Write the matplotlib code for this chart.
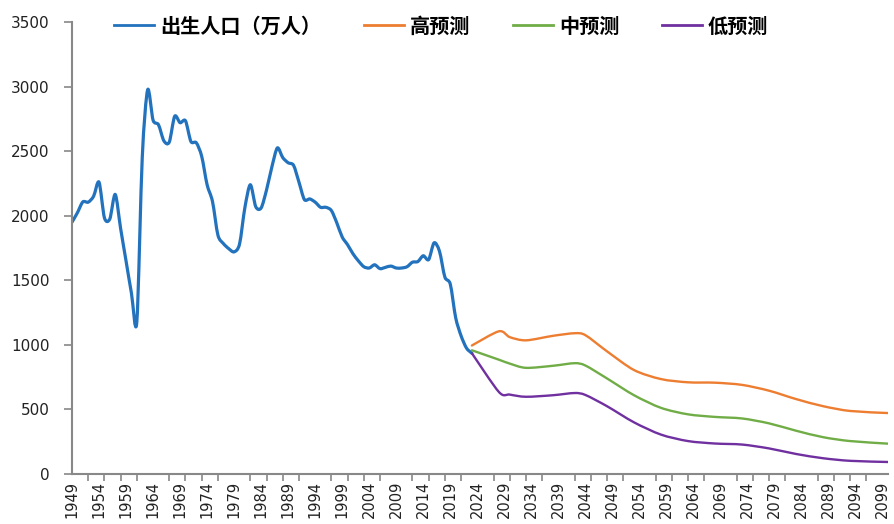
import numpy as np
import matplotlib
matplotlib.use("Agg")
import matplotlib.pyplot as plt
from matplotlib.path import Path
from matplotlib.patches import PathPatch
from matplotlib.lines import Line2D
from matplotlib.ticker import FixedLocator

plt.rcParams['font.family'] = ['DejaVu Sans']

# actual births, 1949-2023 (万人)
hist_years = list(range(1949, 2024))
hist_births = [
    1950, 2023, 2107, 2105, 2151, 2260, 1984, 1975, 2165, 1900,
    1650, 1400, 1180, 2450, 2975, 2740, 2705, 2580, 2570, 2770,
    2720, 2735, 2575, 2565, 2460, 2240, 2110, 1850, 1785, 1745,
    1720, 1780, 2065, 2240, 2070, 2060, 2200, 2380, 2525, 2450,
    2410, 2390, 2260, 2125, 2130, 2105, 2065, 2065, 2040, 1945,
    1835, 1775, 1705, 1650, 1605, 1595, 1620, 1590, 1600, 1610,
    1595, 1595, 1605, 1640, 1645, 1690, 1660, 1790, 1725, 1525,
    1470, 1210, 1070, 975, 935,
]

# projections
proj_years = [2023, 2028, 2030, 2033, 2038, 2042, 2044, 2048, 2053, 2058,
              2063, 2068, 2073, 2078, 2083, 2088, 2093, 2100]
high = [995, 1105, 1060, 1035, 1070, 1090, 1075, 950, 805, 735,
        710, 707, 690, 645, 580, 525, 488, 472]
mid = [958, 885, 855, 822, 838, 858, 840, 740, 610, 512,
       462, 442, 430, 392, 335, 285, 255, 235]
low = [935, 635, 615, 598, 610, 627, 612, 525, 400, 305,
       255, 236, 228, 198, 155, 122, 102, 93]

labels = ["出生人口（万人）", "高预测", "中预测", "低预测"]
colors = ["#2272BD", "#ED7D31", "#70AD47", "#7030A0"]


# Excel-style smoothed line: bezier through the data points
def smooth_path(xs, ys, k=7.0):
    pts = np.column_stack([xs, ys]).astype(float)
    n = len(pts)
    verts = [pts[0]]
    codes = [Path.MOVETO]
    for i in range(n - 1):
        p0 = pts[i - 1] if i > 0 else pts[i]
        p1, p2 = pts[i], pts[i + 1]
        p3 = pts[i + 2] if i + 2 < n else pts[i + 1]
        verts += [p1 + (p2 - p0) / k, p2 - (p3 - p1) / k, p2]
        codes += [Path.CURVE4] * 3
    return Path(verts, codes)


fig = plt.figure(figsize=(8.94, 5.24), dpi=100)
ax = fig.add_axes([72 / 894, 1 - 474 / 524, (888 - 72) / 894, (474 - 22) / 524])

series = [(hist_years, hist_births, 2.3), (proj_years, high, 1.7),
          (proj_years, mid, 1.7), (proj_years, low, 1.7)]
handles = []
for (xs, ys, lw), c, lab in zip(series, colors, labels):
    ax.add_patch(PathPatch(smooth_path(xs, ys), facecolor='none', edgecolor=c,
                           lw=lw, joinstyle='round', capstyle='round'))
    handles.append(Line2D([], [], color=c, lw=2.0, label=lab))

ax.set_xlim(1949, 2100)
ax.set_ylim(0, 3500)
ax.set_yticks(range(0, 3501, 500))

# labels every 5 years, tick marks every 3 years
ax.xaxis.set_major_locator(FixedLocator(list(range(1949, 2100, 5))))
ax.xaxis.set_minor_locator(FixedLocator(list(range(1949, 2101, 3))))
ax.set_xticklabels([str(y) for y in range(1949, 2100, 5)], rotation=90)
ax.tick_params(axis='x', which='major', length=0, pad=5, labelsize=10.5, labelcolor='#222222')
ax.tick_params(axis='x', which='minor', length=5, width=1.2, color='#888888', direction='out')
ax.tick_params(axis='y', length=6, width=1.2, color='#888888', pad=10,
               labelsize=11, labelcolor='#222222')

for s in ['top', 'right']:
    ax.spines[s].set_visible(False)
for s in ['left', 'bottom']:
    ax.spines[s].set_color('#888888')
    ax.spines[s].set_linewidth(1.5)

fig.legend(handles=handles, loc='center left', bbox_to_anchor=(104 / 894, 1 - 26 / 524),
           ncol=4, frameon=False, borderpad=0, handlelength=2.0,
           handletextpad=0.3, columnspacing=2.1,
           prop={'family': ['Noto Sans CJK SC', 'DejaVu Sans'],
                 'weight': 'bold', 'size': 14.5})

fig.savefig("out.png", dpi=100)
